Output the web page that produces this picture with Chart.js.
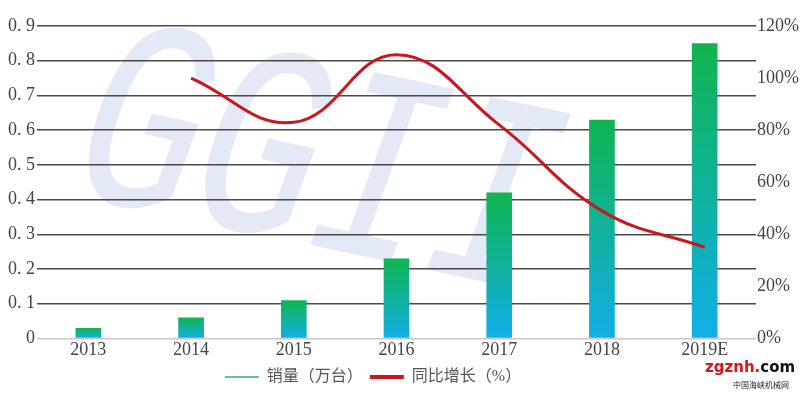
<!DOCTYPE html>
<html>
<head>
<meta charset="utf-8">
<script src="https://cdn.jsdelivr.net/npm/chart.js@4/dist/chart.umd.min.js"></script>
<style>
  html, body { margin: 0; padding: 0; background: #fff; }
  #wrap { position: relative; width: 800px; height: 395px; overflow: hidden; }
  #wm { position: absolute; left: 112px; top: -14px; font-family: "Liberation Mono", "DejaVu Sans Mono", monospace;
        font-style: italic; font-size: 205px; color: #e4e9f7; letter-spacing: -4px; line-height: 1;
        transform: rotate(12deg) scaleY(1.35); transform-origin: left top; white-space: nowrap; z-index: 0; }
  canvas { position: absolute; left: 0; top: 0; z-index: 1; }
  #brand { position: absolute; left: 705px; top: 360px; z-index: 2; font-family: "DejaVu Sans", sans-serif; font-weight: bold; font-size: 15px; line-height: 1; white-space: nowrap; }
  #brand .r { color: #d9141b; }
  #brand .k { color: #111; }
  #brand2 { position: absolute; left: 733px; top: 381px; z-index: 2; font-family: "Noto Sans CJK SC", sans-serif; font-size: 8px; color: #222; line-height: 1; white-space: nowrap; }
</style>
</head>
<body>
<div id="wrap">
  <div id="wm">GGII</div>
  <canvas id="c" width="800" height="395"></canvas>
  <div id="brand"><span class="r">zgznh.</span><span class="k">com</span></div>
  <div id="brand2">中国海峡机械网</div>
</div>
<script>
const categories = ['2013', '2014', '2015', '2016', '2017', '2018', '2019E'];
const salesValues = [0.03, 0.06, 0.11, 0.23, 0.42, 0.63, 0.85];
const growthValues = [null, 100, 83, 109, 82, 49, 35];
const leftTickLabels = ['0', '0. 1', '0. 2', '0. 3', '0. 4', '0. 5', '0. 6', '0. 7', '0. 8', '0. 9'];
const rightTickLabels = ['0%', '20%', '40%', '60%', '80%', '100%', '120%'];
const seriesNames = ['销量（万台）', '同比增长（%）'];

const FONT = '"Liberation Serif", "DejaVu Serif", "Noto Sans CJK SC", serif';

function barGradient(ctx) {
  const chart = ctx.chart;
  const ca = chart.chartArea;
  if (!ca || ctx.raw == null) return '#14b06a';
  const y = chart.scales.y;
  const top = y.getPixelForValue(ctx.raw);
  const base = y.getPixelForValue(0);
  const g = chart.ctx.createLinearGradient(0, top, 0, base);
  g.addColorStop(0, '#10b54f');
  g.addColorStop(1, '#12aee8');
  return g;
}

const shiftLegend = {
  id: 'shiftLegend',
  afterLayout(chart) {
    if (chart.legend) { chart.legend.left -= 30; chart.legend.right -= 30; }
  }
};

new Chart(document.getElementById('c'), {
  plugins: [shiftLegend],
  data: {
    labels: categories,
    datasets: [
      {
        type: 'bar',
        label: seriesNames[0],
        data: salesValues,
        yAxisID: 'y',
        backgroundColor: barGradient,
        barPercentage: 0.5,
        categoryPercentage: 0.5,
        order: 2
      },
      {
        type: 'line',
        label: seriesNames[1],
        data: growthValues,
        yAxisID: 'y2',
        borderColor: '#c8171e',
        borderWidth: 3,
        pointRadius: 0,
        tension: 0.42,
        fill: false,
        order: 1
      }
    ]
  },
  options: {
    responsive: false,
    animation: false,
    events: [],
    layout: { padding: { left: 6, right: 0, top: 26, bottom: 0 } },
    plugins: {
      tooltip: { enabled: false },
      legend: {
        position: 'bottom',
        labels: {
          usePointStyle: true,
          pointStyleWidth: 34,
          padding: 7,
          color: '#555',
          font: { family: FONT, size: 16 },
          generateLabels: function (chart) {
            return [
              { text: seriesNames[0], pointStyle: 'line', strokeStyle: '#2aa98a', fillStyle: '#2aa98a', lineWidth: 1.5, datasetIndex: 0, fontColor: '#555' },
              { text: seriesNames[1], pointStyle: 'line', strokeStyle: '#c8171e', fillStyle: '#c8171e', lineWidth: 4, datasetIndex: 1, fontColor: '#555' }
            ];
          }
        }
      }
    },
    scales: {
      x: {
        grid: { display: false, drawTicks: false, tickLength: 0 },
        border: { display: false },
        ticks: { color: '#444', font: { family: FONT, size: 18 }, padding: 1 }
      },
      y: {
        position: 'left',
        min: 0,
        max: 0.9,
        ticks: {
          stepSize: 0.1,
          color: '#444',
          padding: 2,
          font: { family: FONT, size: 18 },
          callback: function (v, i) { return leftTickLabels[i]; }
        },
        grid: {
          drawTicks: false,
          lineWidth: 1.5,
          color: function (c) { return c.index === 0 ? '#c8c8c8' : '#4a4a46'; }
        },
        border: { display: false }
      },
      y2: {
        position: 'right',
        min: 0,
        max: 120,
        ticks: {
          stepSize: 20,
          color: '#444',
          padding: 1,
          font: { family: FONT, size: 18 },
          callback: function (v, i) { return rightTickLabels[i]; }
        },
        grid: { display: false, drawTicks: false },
        border: { display: false }
      }
    }
  }
});
</script>
</body>
</html>
